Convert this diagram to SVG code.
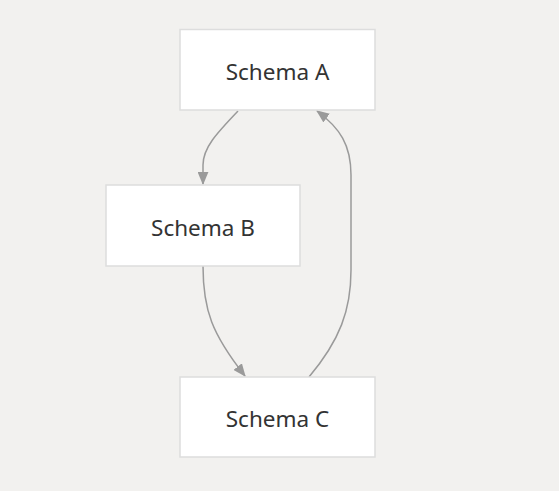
<svg xmlns="http://www.w3.org/2000/svg" width="559" height="491" viewBox="0 0 559 491">
<defs>
<style>
.node rect{fill:#ffffff;stroke:#dddddd;stroke-width:1.5}
.node text{font-family:"Noto Sans","Open Sans",sans-serif;font-size:22.5px;fill:#333333;text-anchor:middle;dominant-baseline:central}
.edge{fill:none;stroke:#9a9a9a;stroke-width:1.5}
</style>
<marker id="arr" viewBox="0 0 12 10" refX="11" refY="5" markerWidth="13" markerHeight="11" markerUnits="userSpaceOnUse" orient="auto">
<path d="M0,0 L12,5 L0,10 z" fill="#9a9a9a"/>
</marker>
</defs>
<rect width="559" height="491" fill="#f2f1ef"/>
<g id="connectors">
<path class="edge" d="M238,111 C216,134 203,148 203,165 L203,184" marker-end="url(#arr)"/>
<path class="edge" d="M203,266 C203,310 212,334 245,376" marker-end="url(#arr)"/>
<path class="edge" d="M309,377 C340,340 351,310 351,270 L351,175 C351,145 340,128 317,111" marker-end="url(#arr)"/>
</g>
<g id="nodeA" class="node"><rect x="180" y="29.5" width="195" height="80.5"/><text x="277.5" y="71">Schema A</text></g>
<g id="nodeB" class="node"><rect x="106" y="185" width="194" height="81"/><text x="203" y="227">Schema B</text></g>
<g id="nodeC" class="node"><rect x="180" y="377" width="195" height="80"/><text x="277.5" y="418">Schema C</text></g>
</svg>
